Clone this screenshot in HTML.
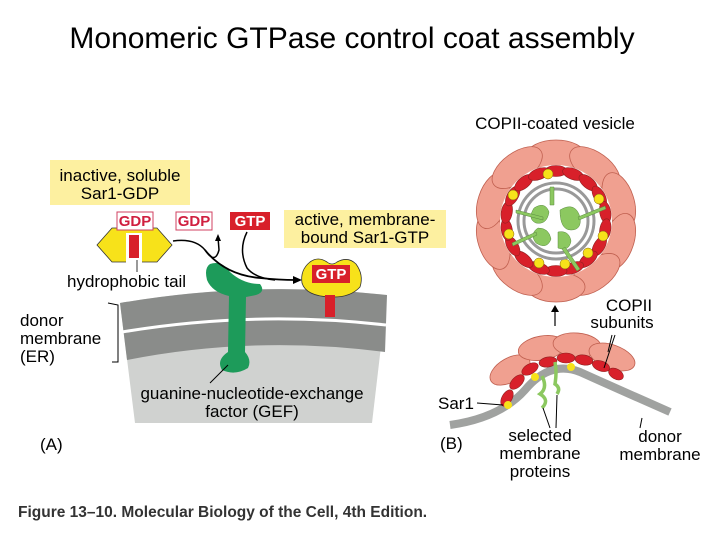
<!DOCTYPE html>
<html><head><meta charset="utf-8"><style>
html,body{margin:0;padding:0;background:#fff;}
svg{display:block;}
text{font-family:"Liberation Sans",sans-serif;}
.l{font-size:17px;}
</style></head><body>
<svg width="720" height="540" viewBox="0 0 720 540" xmlns="http://www.w3.org/2000/svg">
<text x="352" y="48" font-size="30" text-anchor="middle" fill="#000">Monomeric GTPase control coat assembly</text>

<!-- Panel A -->
<rect x="50" y="160" width="140" height="45" fill="#fdf0a0"/>
<text x="120" y="181" class="l" text-anchor="middle">inactive, soluble</text>
<text x="120" y="199" class="l" text-anchor="middle">Sar1-GDP</text>
<rect x="284" y="210" width="162" height="38" fill="#fdf0a0"/>
<text x="365" y="225" class="l" text-anchor="middle">active, membrane-</text>
<text x="365" y="243" class="l" text-anchor="middle">bound Sar1-GTP</text>

<path d="M120,303 Q253,280 387,295 L372,423 L135,423 Z" fill="#d0d2d0"/>
<path d="M120,303 Q253,280 387,295 L385,352 Q253,335 127,360 Z" fill="#8a8c8a"/>
<path d="M122,332 Q253,310 386,325" stroke="#fff" stroke-width="3" fill="none"/>
<path d="M108,303 L118,305 L118,362 L112,362" stroke="#000" stroke-width="1" fill="none"/>

<path d="M210,264 Q222,260 230,272 Q243,284 260,284 Q266,292 256,295 L246,297 L245,352 Q252,360 248,368 Q235,376 222,370 Q216,360 228,352 L229,296 Q212,292 207,280 Q204,268 210,264 Z" fill="#1d9b5a"/>
<line x1="210" y1="383" x2="228" y2="365" stroke="#000" stroke-width="1"/>

<path d="M112,228 L157,228 L172,245 L157,262 L112,262 L97,245 Z" fill="#f7e21a" stroke="#333" stroke-width="0.8"/>
<rect x="126" y="233" width="16" height="30" fill="#fff"/>
<rect x="129" y="235" width="10" height="23" fill="#d8202a"/>
<line x1="137" y1="260" x2="137" y2="272" stroke="#000" stroke-width="0.8"/>
<rect x="117" y="212" width="36" height="18" fill="#fff" stroke="#d04060" stroke-width="1"/>
<text x="135" y="226" font-size="15" font-weight="bold" fill="#d02040" text-anchor="middle">GDP</text>
<rect x="176" y="212" width="36" height="18" fill="#fff" stroke="#d04060" stroke-width="1"/>
<text x="194" y="226" font-size="15" font-weight="bold" fill="#d02040" text-anchor="middle">GDP</text>
<rect x="230" y="212" width="40" height="18" fill="#d8202a"/>
<text x="250" y="226" font-size="15" font-weight="bold" fill="#fff" text-anchor="middle">GTP</text>

<path d="M173,241 Q195,238 205,250 Q215,265 219,250 L218,237" stroke="#000" stroke-width="1.5" fill="none"/>
<path d="M215,241 L218,234 L221,241 Z" fill="#000"/>
<path d="M205,250 Q225,275 260,278 Q280,280 295,280" stroke="#000" stroke-width="1.8" fill="none"/>
<path d="M247,232 Q238,250 247,268 Q255,278 275,280" stroke="#000" stroke-width="1.5" fill="none"/>
<path d="M293,276 L302,280 L293,284 Z" fill="#000"/>
<text x="67" y="287" class="l">hydrophobic tail</text>

<path d="M310,262 Q318,256 327,262 Q332,266 337,262 Q348,256 356,264 Q364,275 360,287 Q350,298 330,297 Q306,296 302,283 Q300,270 310,262 Z" fill="#f7e21a" stroke="#333" stroke-width="0.8"/>
<rect x="325" y="295" width="10" height="22" fill="#d8202a"/>
<rect x="312" y="265" width="38" height="18" fill="#d8202a"/>
<text x="331" y="279" font-size="15" font-weight="bold" fill="#fff" text-anchor="middle">GTP</text>

<text x="20" y="326" class="l">donor</text>
<text x="20" y="344" class="l">membrane</text>
<text x="20" y="362" class="l">(ER)</text>
<text x="252" y="399" class="l" text-anchor="middle">guanine-nucleotide-exchange</text>
<text x="252" y="417" class="l" text-anchor="middle">factor (GEF)</text>
<text x="40" y="450" class="l">(A)</text>

<!-- Panel B -->
<text x="555" y="129" class="l" text-anchor="middle">COPII-coated vesicle</text>
<g transform="translate(556,221)">
  <g fill="#f0a090" stroke="#c06050" stroke-width="0.8">
    <ellipse cx="0" cy="-66" rx="29" ry="15"/>
    <ellipse cx="0" cy="-66" rx="29" ry="15" transform="rotate(36)"/>
    <ellipse cx="0" cy="-66" rx="29" ry="15" transform="rotate(72)"/>
    <ellipse cx="0" cy="-66" rx="29" ry="15" transform="rotate(108)"/>
    <ellipse cx="0" cy="-66" rx="29" ry="15" transform="rotate(144)"/>
    <ellipse cx="0" cy="-66" rx="29" ry="15" transform="rotate(180)"/>
    <ellipse cx="0" cy="-66" rx="29" ry="15" transform="rotate(216)"/>
    <ellipse cx="0" cy="-66" rx="29" ry="15" transform="rotate(252)"/>
    <ellipse cx="0" cy="-66" rx="29" ry="15" transform="rotate(288)"/>
    <ellipse cx="0" cy="-66" rx="29" ry="15" transform="rotate(324)"/>
  </g>
  <circle r="56" fill="#fff"/>
  <g fill="#d8202a" stroke="#902020" stroke-width="0.6">
    <ellipse cx="0" cy="-50" rx="11" ry="5.5"/>
    <ellipse cx="0" cy="-50" rx="11" ry="5.5" transform="rotate(20)"/>
    <ellipse cx="0" cy="-50" rx="11" ry="5.5" transform="rotate(40)"/>
    <ellipse cx="0" cy="-50" rx="11" ry="5.5" transform="rotate(60)"/>
    <ellipse cx="0" cy="-50" rx="11" ry="5.5" transform="rotate(80)"/>
    <ellipse cx="0" cy="-50" rx="11" ry="5.5" transform="rotate(100)"/>
    <ellipse cx="0" cy="-50" rx="11" ry="5.5" transform="rotate(120)"/>
    <ellipse cx="0" cy="-50" rx="11" ry="5.5" transform="rotate(140)"/>
    <ellipse cx="0" cy="-50" rx="11" ry="5.5" transform="rotate(160)"/>
    <ellipse cx="0" cy="-50" rx="11" ry="5.5" transform="rotate(180)"/>
    <ellipse cx="0" cy="-50" rx="11" ry="5.5" transform="rotate(200)"/>
    <ellipse cx="0" cy="-50" rx="11" ry="5.5" transform="rotate(220)"/>
    <ellipse cx="0" cy="-50" rx="11" ry="5.5" transform="rotate(240)"/>
    <ellipse cx="0" cy="-50" rx="11" ry="5.5" transform="rotate(260)"/>
    <ellipse cx="0" cy="-50" rx="11" ry="5.5" transform="rotate(280)"/>
    <ellipse cx="0" cy="-50" rx="11" ry="5.5" transform="rotate(300)"/>
    <ellipse cx="0" cy="-50" rx="11" ry="5.5" transform="rotate(320)"/>
    <ellipse cx="0" cy="-50" rx="11" ry="5.5" transform="rotate(340)"/>
  </g>
  <g fill="#f7e21a" stroke="#806010" stroke-width="0.5">
    <circle cx="-43" cy="-26" r="5"/><circle cx="43" cy="-22" r="5"/>
    <circle cx="-47" cy="13" r="5"/><circle cx="47" cy="15" r="5"/>
    <circle cx="-17" cy="42" r="5"/><circle cx="9" cy="43" r="5"/>
    <circle cx="32" cy="32" r="5"/><circle cx="-8" cy="-47" r="5"/>
  </g>
  <circle r="38" fill="none" stroke="#999" stroke-width="3"/>
  <circle r="32" fill="none" stroke="#999" stroke-width="3"/>
  <g fill="#8cc860" stroke="#5a8a40" stroke-width="0.5">
    <path d="M-22,-13 q11,-7 15,4 q-2,13 -13,11 q-9,-4 -2,-15z"/>
    <path d="M4,-11 q15,-9 20,7 q2,13 -9,13 q-11,0 -11,-20z"/>
    <path d="M-18,7 q11,0 13,11 q-4,11 -15,4 q-7,-9 2,-15z"/>
    <path d="M2,11 q11,-2 13,9 q-2,11 -13,7z"/>
    <path d="M-6,-34 l4,0 l0,18 l-4,0z"/>
    <path d="M-40,-11 l27,7 l0,3 l-27,-7z"/>
    <path d="M22,-4 l27,-11 l1,3 l-27,11z"/>
    <path d="M-44,22 l24,-11 l1,3 l-24,11z"/>
    <path d="M9,26 l15,22 l-3,2 l-15,-22z"/>
  </g>
</g>
<line x1="555" y1="326" x2="555" y2="310" stroke="#000" stroke-width="1.2"/>
<path d="M551,312 L555,305 L559,312 Z" fill="#000"/>
<text x="629" y="311" class="l" text-anchor="middle">COPII</text>
<text x="622" y="328" class="l" text-anchor="middle">subunits</text>

<g fill="#f0a090" stroke="#c06050" stroke-width="0.8">
  <ellipse cx="510" cy="370" rx="22" ry="12" transform="rotate(-30 510 370)"/>
  <ellipse cx="542" cy="348" rx="24" ry="12" transform="rotate(-10 542 348)"/>
  <ellipse cx="577" cy="345" rx="24" ry="12" transform="rotate(5 577 345)"/>
  <ellipse cx="612" cy="357" rx="24" ry="12" transform="rotate(20 612 357)"/>
</g>
<path d="M450,425 Q500,418 525,390 Q550,360 580,372 Q620,390 670,412" stroke="#a0a2a0" stroke-width="8" fill="none"/>
<g fill="#d8202a" stroke="#902020" stroke-width="0.6">
  <ellipse cx="507" cy="398" rx="9" ry="5" transform="rotate(-60 507 398)"/>
  <ellipse cx="517" cy="382" rx="9" ry="5" transform="rotate(-45 517 382)"/>
  <ellipse cx="530" cy="369" rx="9" ry="5" transform="rotate(-30 530 369)"/>
  <ellipse cx="548" cy="362" rx="9" ry="5" transform="rotate(-10 548 362)"/>
  <ellipse cx="566" cy="358" rx="9" ry="5"/>
  <ellipse cx="584" cy="360" rx="9" ry="5" transform="rotate(10 584 360)"/>
  <ellipse cx="601" cy="366" rx="9" ry="5" transform="rotate(20 601 366)"/>
  <ellipse cx="616" cy="374" rx="8" ry="5" transform="rotate(30 616 374)"/>
</g>
<g fill="#f7e21a"><circle cx="508" cy="405" r="4"/><circle cx="535" cy="377" r="4"/><circle cx="571" cy="367" r="4"/></g>
<g stroke="#8cc860" stroke-width="3.5" fill="none">
  <path d="M542,376 q6,12 -2,18 q10,6 2,14"/>
  <path d="M555,362 q2,10 0,22 q6,4 2,10"/>
</g>
<line x1="477" y1="403" x2="503" y2="405" stroke="#000" stroke-width="1"/>
<line x1="550" y1="428" x2="543" y2="408" stroke="#000" stroke-width="1"/>
<line x1="556" y1="428" x2="557" y2="395" stroke="#000" stroke-width="1"/>
<line x1="612" y1="335" x2="608" y2="352" stroke="#000" stroke-width="1"/>
<line x1="615" y1="335" x2="604" y2="368" stroke="#000" stroke-width="1"/>
<line x1="640" y1="428" x2="642" y2="418" stroke="#000" stroke-width="1"/>
<text x="438" y="409" class="l">Sar1</text>
<text x="440" y="449" class="l">(B)</text>
<text x="540" y="441" class="l" text-anchor="middle">selected</text>
<text x="540" y="459" class="l" text-anchor="middle">membrane</text>
<text x="540" y="477" class="l" text-anchor="middle">proteins</text>
<text x="660" y="442" class="l" text-anchor="middle">donor</text>
<text x="660" y="460" class="l" text-anchor="middle">membrane</text>

<text x="18" y="517" font-size="15.5" font-weight="bold" fill="#333">Figure 13–10. Molecular Biology of the Cell, 4th Edition.</text>
</svg>
</body></html>
